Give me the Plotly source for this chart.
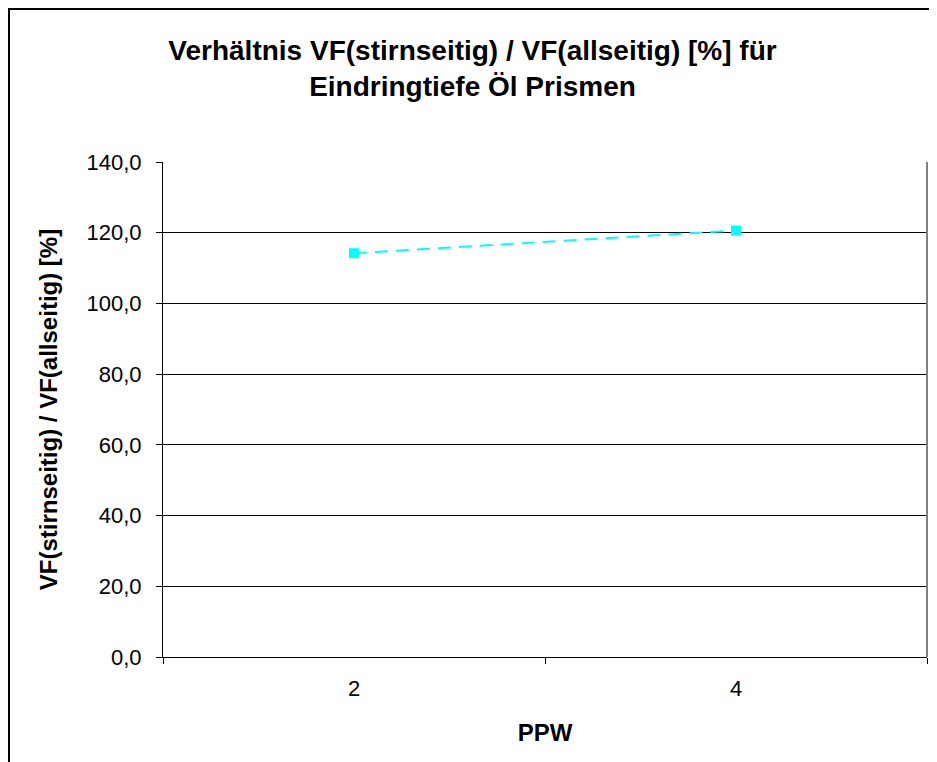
import plotly.graph_objects as go

categories = ["2", "4"]
values = [114.2, 120.6]
y_ticks = [0, 20, 40, 60, 80, 100, 120, 140]

title_text = "Verhältnis VF(stirnseitig) / VF(allseitig) [%] für<br>Eindringtiefe Öl Prismen"
x_title = "PPW"
y_title = "VF(stirnseitig) / VF(allseitig) [%]"

# page has an 8px body margin, so the figure is drawn 8px in from the edges
W, H = 929, 754
L, R, T, B = 155, 10, 154, 105
pw = W - L - R
ph = H - T - B

def px(x):
    return (x - L) / pw

def py(y):
    return (H - B - y) / ph

fig = go.Figure()
fig.add_trace(go.Scatter(
    x=categories, y=values, mode="lines+markers",
    line=dict(color="#00FFFF", width=2, dash="13px,8px"),
    marker=dict(symbol="square", size=10, color="#00FFFF"),
    showlegend=False,
))

fig.update_layout(
    width=W, height=H,
    margin=dict(l=L, r=R, t=T, b=B),
    paper_bgcolor="white", plot_bgcolor="white",
    font=dict(family="Liberation Sans, Arial, sans-serif", color="black"),
    separators=",.",
    title=dict(text="<b>" + title_text + "</b>", x=0.5, xanchor="center",
               y=1 - 51.5 / H, yanchor="middle",
               font=dict(size=28, color="black")),
    xaxis=dict(type="category", range=[-0.5, 1.5], tickson="boundaries",
               ticks="outside", ticklen=6, tickcolor="black",
               showgrid=False, showline=True, linecolor="black", linewidth=1,
               tickfont=dict(size=22), ticklabelstandoff=12,
               title=dict(text="<b>" + x_title + "</b>", font=dict(size=24), standoff=23)),
    yaxis=dict(range=[0, 140], tickvals=y_ticks, tickformat=".1f",
               ticks="outside", ticklen=6, tickcolor="black",
               showgrid=True, gridcolor="black", gridwidth=1,
               showline=True, linecolor="black", linewidth=1,
               zeroline=False, tickfont=dict(size=22), ticklabelstandoff=10,
               title=dict(text="<b>" + y_title + "</b>", font=dict(size=24), standoff=22)),
    shapes=[
        dict(type="line", xref="paper", yref="paper", x0=1, x1=1, y0=0, y1=1,
             line=dict(color="#808080", width=2)),
        dict(type="rect", xref="paper", yref="paper",
             x0=px(1), x1=px(W + 20), y0=py(H + 20), y1=py(1),
             line=dict(color="black", width=2), layer="above"),
    ],
)

fig.write_html("out.html")
